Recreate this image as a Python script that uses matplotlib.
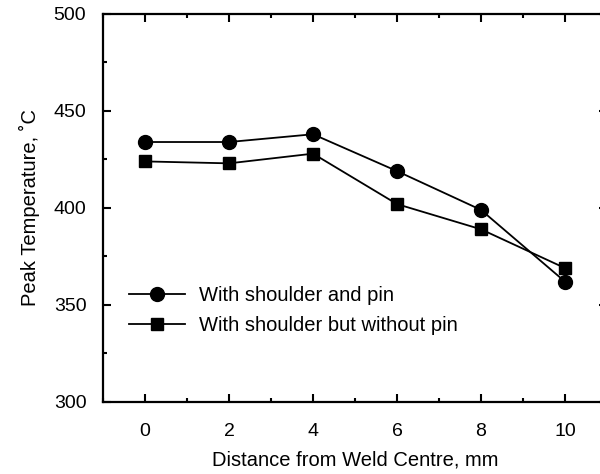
import matplotlib.pyplot as plt
from matplotlib.ticker import MultipleLocator

plt.rcParams['font.family'] = ['Liberation Sans', 'DejaVu Sans']

# Data
distance = [0, 2, 4, 6, 8, 10]
with_pin = [434, 434, 438, 419, 399, 362]
without_pin = [424, 423, 428, 402, 389, 369]

fig = plt.figure(figsize=(6, 4.74), dpi=100)
ax = fig.add_axes([0.1717, 0.152, 0.84, 0.8185])

ax.plot(distance, with_pin, color='black', lw=1.3, marker='o', ms=10,
        label='With shoulder and pin')
ax.plot(distance, without_pin, color='black', lw=1.3, marker='s', ms=9,
        label='With shoulder but without pin')

ax.set_xlim(-1, 11)
ax.set_ylim(300, 500)
ax.xaxis.set_major_locator(MultipleLocator(2))
ax.xaxis.set_minor_locator(MultipleLocator(1))
ax.yaxis.set_major_locator(MultipleLocator(50))
ax.yaxis.set_minor_locator(MultipleLocator(25))
ax.tick_params(which='both', direction='in', top=True, right=True, width=1.5)
ax.tick_params(which='major', length=6)
ax.tick_params(which='minor', length=3)
ax.tick_params(axis='x', which='major', pad=15, labelsize=14)
ax.tick_params(axis='y', which='major', pad=12, labelsize=14)
for sp in ax.spines.values():
    sp.set_linewidth(1.6)

ax.set_xlabel('Distance from Weld Centre, mm', fontsize=14.5, labelpad=8)
ax.set_ylabel('Peak Temperature, ˚C', fontsize=14.5, labelpad=10)

ax.legend(loc='lower left', bbox_to_anchor=(0.015, 0.125), frameon=False,
          fontsize=14.5, handlelength=2.8, handletextpad=0.7,
          labelspacing=0.55)

fig.savefig('out.png', dpi=100)
